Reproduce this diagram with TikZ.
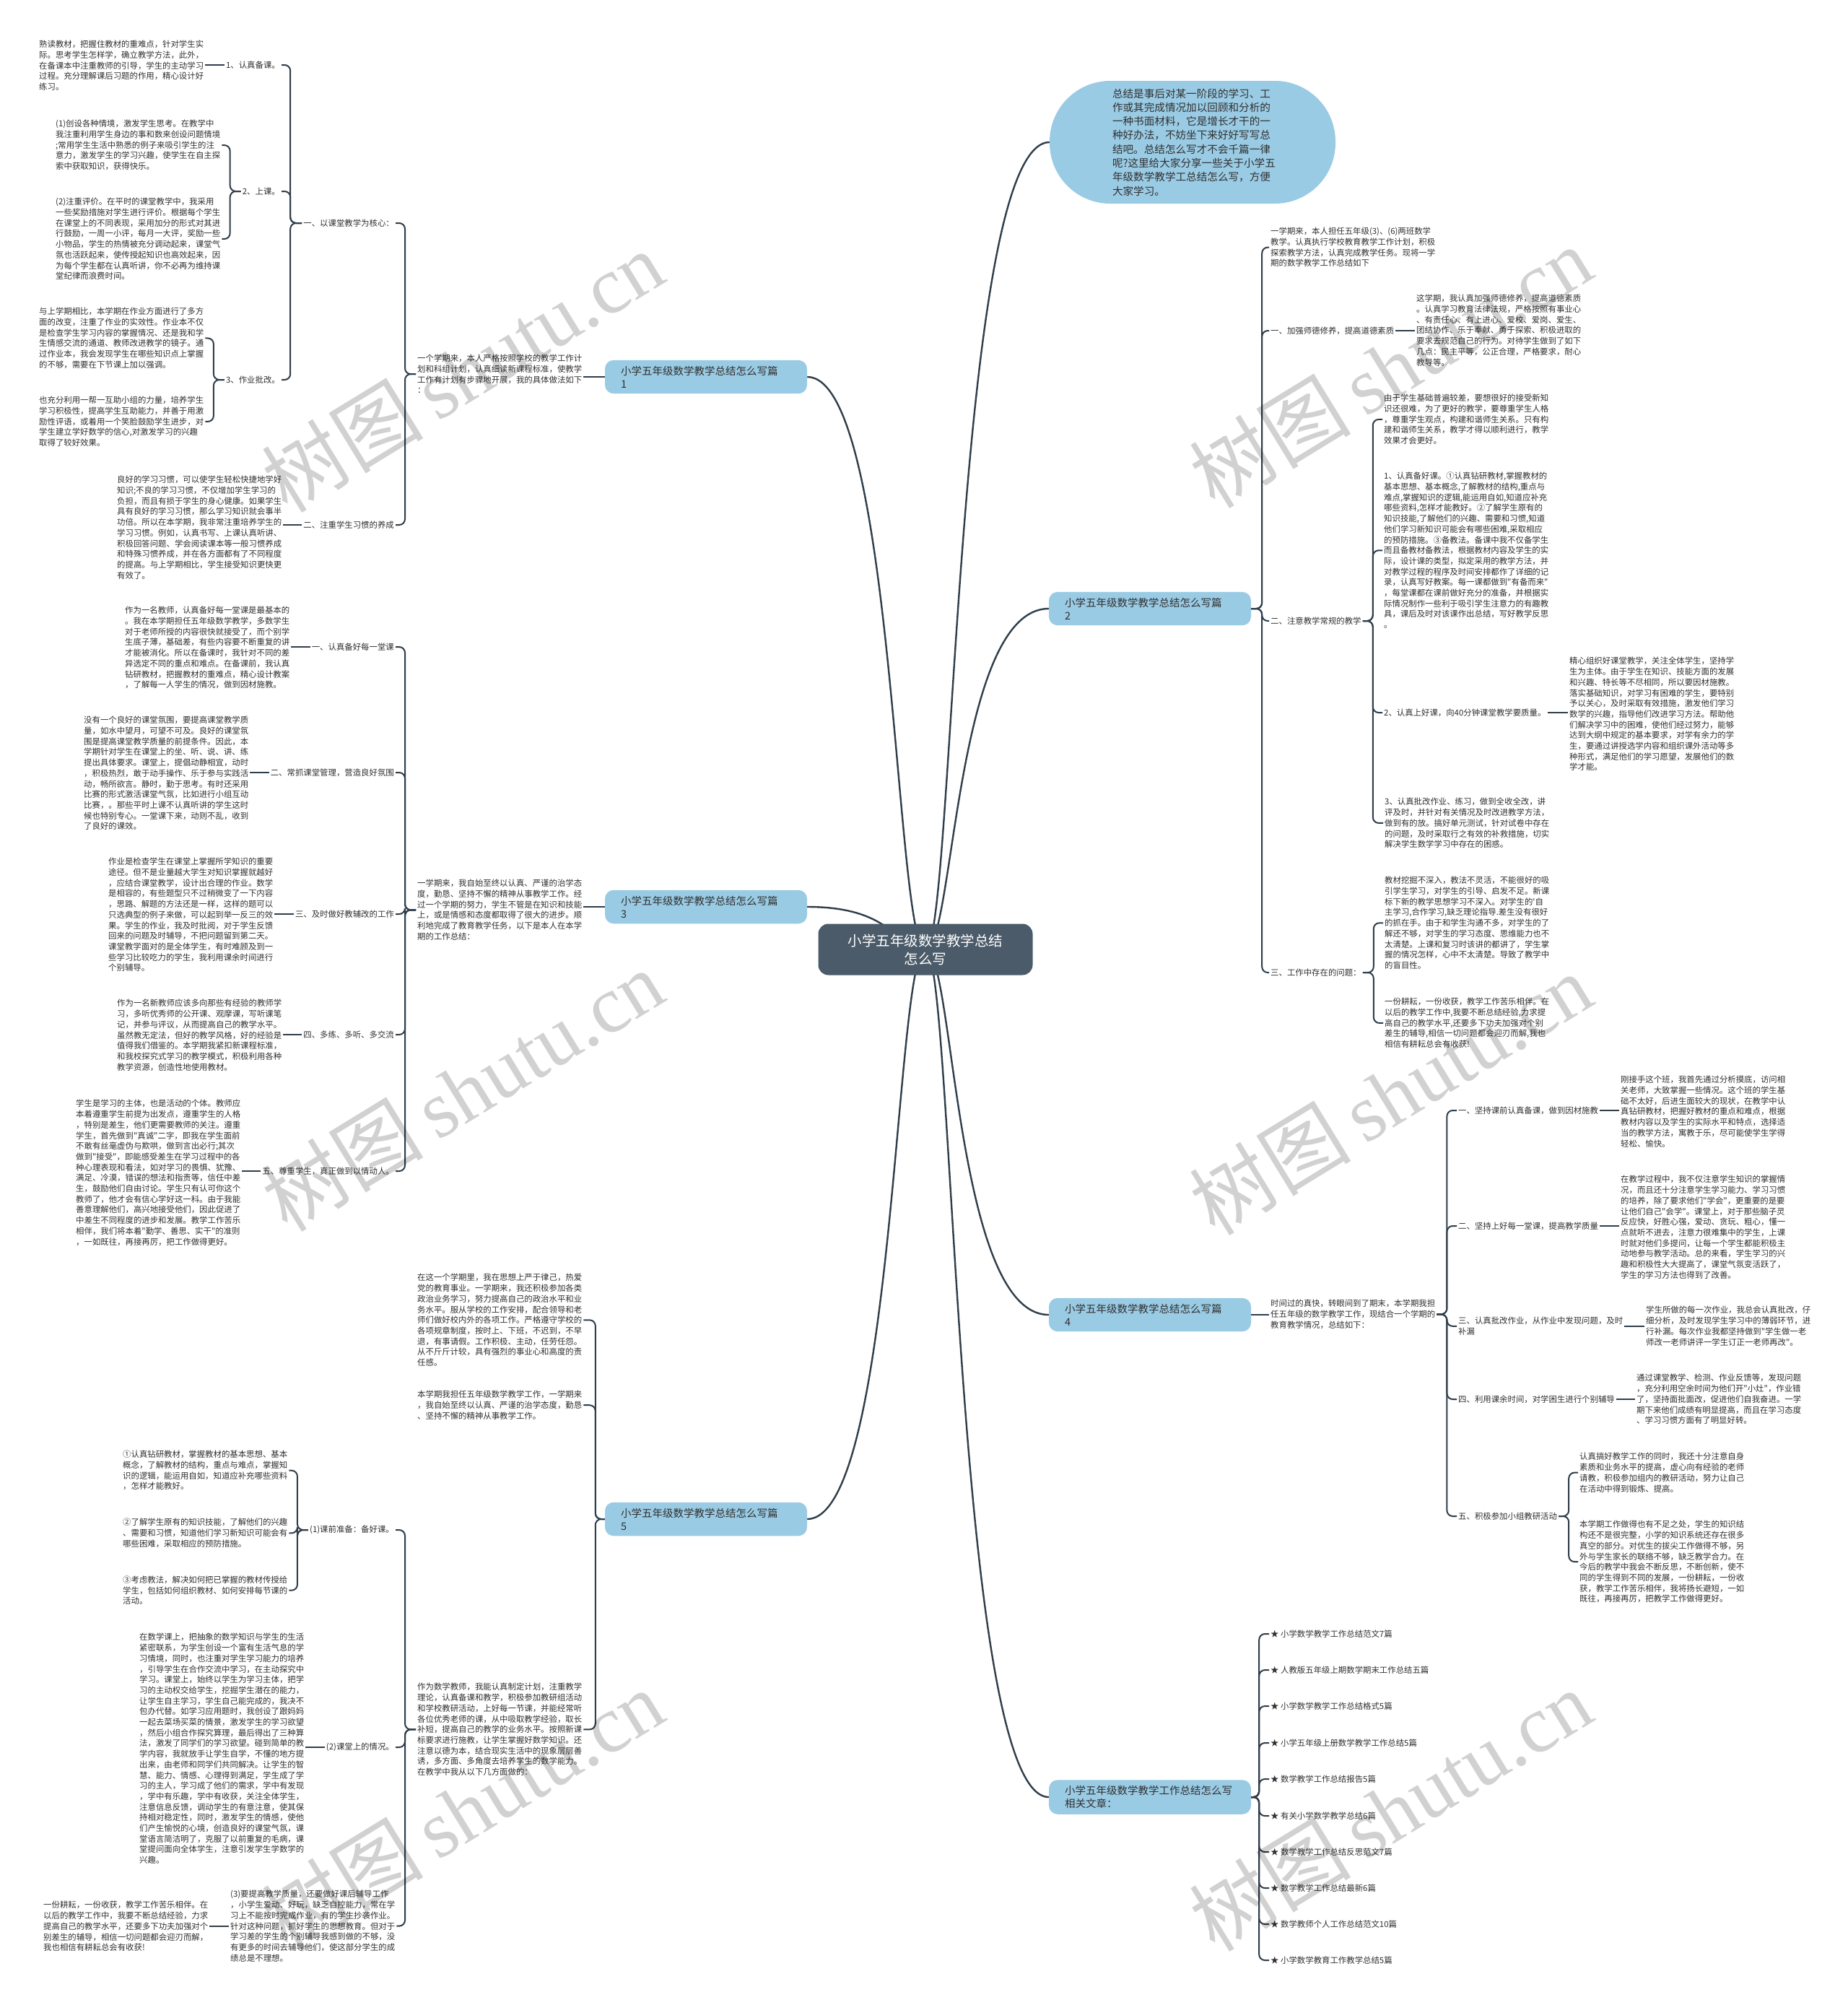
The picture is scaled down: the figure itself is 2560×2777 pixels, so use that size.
\documentclass[tikz,border=0pt]{standalone}
\usepackage{fontspec}
\newfontfamily\cjk{Noto Sans CJK SC}
\newfontfamily\wmfont{Liberation Serif}
\usetikzlibrary{calc,backgrounds}
\definecolor{lineC}{HTML}{2F3E4B}
\definecolor{txtC}{HTML}{303030}
\definecolor{brC}{HTML}{9ACBE4}
\definecolor{ctrC}{HTML}{4B5B69}
\tikzset{
 conn/.style={draw=lineC, line width=2pt, rounded corners=8pt},
 curv/.style={draw=lineC, line width=2.4pt},
 blk/.style={font=\cjk\fontsize{11.4pt}{14.7pt}\selectfont, text=txtC, align=left, inner sep=2pt, anchor=north west, xshift=-2pt, yshift=7pt},
 lblE/.style={font=\cjk\fontsize{11.4pt}{14.7pt}\selectfont, text=txtC, inner sep=2pt, anchor=east, xshift=2pt},
 lblW/.style={font=\cjk\fontsize{11.4pt}{14.7pt}\selectfont, text=txtC, inner sep=2pt, anchor=west, xshift=-2pt},
 branch/.style={fill=brC, rounded corners=12pt, font=\cjk\fontsize{14.5pt}{18pt}\selectfont, text=txtC, align=left, text width=236pt, inner xsep=22pt, inner ysep=8pt},
 wm/.style={rotate=31.5, text=black, opacity=0.18, inner sep=0pt}
}
\begin{document}
\begin{tikzpicture}[x=1pt,y=-1pt]
\useasboundingbox (0,0) rectangle (2560,2777);

% ---------- center and top ellipse ----------
\node[fill=ctrC, rounded corners=14pt, minimum width=297pt, minimum height=71pt, text=white, align=center, font=\cjk\fontsize{19.5pt}{25pt}\selectfont] (C) at (1282,1315) {小学五年级数学教学总结\\怎么写};
\node[fill=brC, rounded corners=84pt, minimum width=396pt, minimum height=170pt, text width=222pt, align=left, text=txtC, font=\cjk\fontsize{14.6pt}{19.3pt}\selectfont] (E) at (1652,197) {总结是事后对某一阶段的学习、工\\作或其完成情况加以回顾和分析的\\一种书面材料，它是增长才干的一\\种好办法，不妨坐下来好好写写总\\结吧。总结怎么写才不会千篇一律\\呢?这里给大家分享一些关于小学五\\年级数学教学工总结怎么写，方便\\大家学习。};

% ---------- branch nodes ----------
\node[branch] (N1) at (978,522) {小学五年级数学教学总结怎么写篇\\1};
\node[branch] (N3) at (978,1256) {小学五年级数学教学总结怎么写篇\\3};
\node[branch] (N5) at (978,2104) {小学五年级数学教学总结怎么写篇\\5};
\node[branch] (N2) at (1593,843) {小学五年级数学教学总结怎么写篇\\2};
\node[branch] (N4) at (1593,1821) {小学五年级数学教学总结怎么写篇\\4};
\node[branch] (N6) at (1593,2489) {小学五年级数学教学工作总结怎么写\\相关文章：};

% ---------- branch 1 ----------
\node[blk] (A1) at (54,61) {熟读教材，把握住教材的重难点，针对学生实\\际。思考学生怎样学，确立教学方法，此外，\\在备课本中注重教师的引导，学生的主动学习\\过程。充分理解课后习题的作用，精心设计好\\练习。};
\node[lblE] (L1) at (388,90) {1、认真备课。};
\node[blk] (A2a) at (77,171) {(1)创设各种情境，激发学生思考。在教学中\\我注重利用学生身边的事和数来创设问题情境\\;常用学生生活中熟悉的例子来吸引学生的注\\意力，激发学生的学习兴趣，使学生在自主探\\索中获取知识，获得快乐。};
\node[blk] (A2b) at (77,279) {(2)注重评价。在平时的课堂教学中，我采用\\一些奖励措施对学生进行评价。根据每个学生\\在课堂上的不同表现，采用加分的形式对其进\\行鼓励，一周一小评，每月一大评，奖励一些\\小物品，学生的热情被充分调动起来，课堂气\\氛也活跃起来，使传授起知识也高效起来，因\\为每个学生都在认真听讲，你不必再为维持课\\堂纪律而浪费时间。};
\node[lblE] (L2) at (388,265) {2、上课。};
\node[blk] (A3a) at (54,431) {与上学期相比，本学期在作业方面进行了多方\\面的改变，注重了作业的实效性。作业本不仅\\是检查学生学习内容的掌握情况、还是我和学\\生情感交流的通道、教师改进教学的镜子。通\\过作业本，我会发现学生在哪些知识点上掌握\\的不够，需要在下节课上加以强调。};
\node[blk] (A3b) at (54,554) {也充分利用一帮一互助小组的力量，培养学生\\学习积极性，提高学生互助能力，并善于用激\\励性评语，或着用一个笑脸鼓励学生进步，对\\学生建立学好数学的信心,对激发学习的兴趣\\取得了较好效果。};
\node[lblE] (L3) at (388,526) {3、作业批改。};
\node[lblE] (S1) at (546,309) {一、以课堂教学为核心：};
\node[blk] (A4) at (162,664) {良好的学习习惯，可以使学生轻松快捷地学好\\知识;不良的学习习惯，不仅增加学生学习的\\负担，而且有损于学生的身心健康。如果学生\\具有良好的学习习惯，那么学习知识就会事半\\功倍。所以在本学期，我非常注重培养学生的\\学习习惯。例如，认真书写、上课认真听讲、\\积极回答问题、学会阅读课本等一般习惯养成\\和特殊习惯养成，并在各方面都有了不同程度\\的提高。与上学期相比，学生接受知识更快更\\有效了。};
\node[lblE] (S2) at (546,727) {二、注重学生习惯的养成};
\node[blk] (P1) at (578,496) {一个学期来，本人严格按照学校的教学工作计\\划和科组计划，认真细读新课程标准，使教学\\工作有计划有步骤地开展，我的具体做法如下\\：};

% ---------- branch 3 ----------
\node[blk] (A5) at (173,845) {作为一名教师，认真备好每一堂课是最基本的\\。我在本学期担任五年级数学教学，多数学生\\对于老师所授的内容很快就接受了，而个别学\\生底子薄，基础差，有些内容要不断重复的讲\\才能被消化。所以在备课时，我针对不同的差\\异选定不同的重点和难点。在备课前，我认真\\钻研教材，把握教材的重难点，精心设计教案\\，了解每一人学生的情况，做到因材施教。};
\node[lblE] (S31) at (546,896) {一、认真备好每一堂课};
\node[blk] (A6) at (116,997) {没有一个良好的课堂氛围，要提高课堂教学质\\量，如水中望月，可望不可及。良好的课堂氛\\围是提高课堂教学质量的前提条件。因此，本\\学期针对学生在课堂上的坐、听、说、讲、练\\提出具体要求。课堂上，提倡动静相宜，动时\\，积极热烈，敢于动手操作、乐于参与实践活\\动，畅所欲言。静时，勤于思考。有时还采用\\比赛的形式激活课堂气氛，比如进行小组互动\\比赛，。那些平时上课不认真听讲的学生这时\\候也特别专心。一堂课下来，动则不乱，收到\\了良好的课效。};
\node[lblE] (S32) at (546,1070) {二、常抓课堂管理，营造良好氛围};
\node[blk] (A7) at (150,1193) {作业是检查学生在课堂上掌握所学知识的重要\\途径。但不是业量越大学生对知识掌握就越好\\，应结合课堂教学，设计出合理的作业。数学\\是相容的，有些题型只不过稍微变了一下内容\\，思路、解题的方法还是一样，这样的题可以\\只选典型的例子来做，可以起到举一反三的效\\果。学生的作业，我及时批阅，对于学生反馈\\回来的问题及时辅导，不把问题留到第二天。\\课堂教学面对的是全体学生，有时难顾及到一\\些学习比较吃力的学生，我利用课余时间进行\\个别辅导。};
\node[lblE] (S33) at (546,1266) {三、及时做好教辅改的工作};
\node[blk] (A8) at (162,1389) {作为一名新教师应该多向那些有经验的教师学\\习，多听优秀师的公开课、观摩课，写听课笔\\记，并参与评议，从而提高自己的教学水平。\\虽然教无定法，但好的教学风格，好的经验是\\值得我们借鉴的。本学期我紧扣新课程标准，\\和我校探究式学习的教学模式，积极利用各种\\教学资源，创造性地使用教材。};
\node[lblE] (S34) at (546,1433) {四、多练、多听、多交流};
\node[blk] (A9) at (105,1528) {学生是学习的主体，也是活动的个体。教师应\\本着遵重学生前提为出发点，遵重学生的人格\\，特别是差生，他们更需要教师的关注。遵重\\学生，首先做到"真诚"二字，即我在学生面前\\不敢有丝毫虚伪与欺哄，做到言出必行;其次\\做到"接受"，即能感受差生在学习过程中的各\\种心理表现和看法，如对学习的畏惧、犹豫、\\满足、冷漠，错误的想法和指责等，信任中差\\生，鼓励他们自由讨论。学生只有认可你这个\\教师了，他才会有信心学好这一科。由于我能\\善意理解他们，高兴地接受他们，因此促进了\\中差生不同程度的进步和发展。教学工作苦乐\\相伴，我们将本着"勤学、善思、实干"的准则\\，一如既往，再接再厉，把工作做得更好。};
\node[lblE] (S35) at (546,1622) {五、尊重学生，真正做到以情动人。};
\node[blk] (P3) at (578,1223) {一学期来，我自始至终以认真、严谨的治学态\\度，勤恳、坚持不懈的精神从事教学工作。经\\过一个学期的努力，学生不管是在知识和技能\\上，或是情感和态度都取得了很大的进步。顺\\利地完成了教育教学任务，以下是本人在本学\\期的工作总结：};

% ---------- branch 5 ----------
\node[blk] (P5a) at (578,1769) {在这一个学期里，我在思想上严于律己，热爱\\党的教育事业。一学期来，我还积极参加各类\\政治业务学习，努力提高自己的政治水平和业\\务水平。服从学校的工作安排，配合领导和老\\师们做好校内外的各项工作。严格遵守学校的\\各项规章制度，按时上、下班，不迟到，不早\\退，有事请假。工作积极、主动，任劳任怨。\\从不斤斤计较，具有强烈的事业心和高度的责\\任感。};
\node[blk] (P5b) at (578,1931) {本学期我担任五年级数学教学工作，一学期来\\，我自始至终以认真、严谨的治学态度，勤恳\\、坚持不懈的精神从事教学工作。};
\node[blk] (P5c) at (578,2336) {作为数学教师，我能认真制定计划，注重教学\\理论，认真备课和教学，积极参加教研组活动\\和学校教研活动，上好每一节课，并能经常听\\各位优秀老师的课，从中吸取教学经验，取长\\补短，提高自己的教学的业务水平。按照新课\\标要求进行施教，让学生掌握好数学知识。还\\注意以德为本，结合现实生活中的现象层层善\\诱，多方面、多角度去培养学生的数学能力。\\在教学中我从以下几方面做的：};
\node[blk] (C1a) at (170,2014) {①认真钻研教材，掌握教材的基本思想、基本\\概念，了解教材的结构，重点与难点，掌握知\\识的逻辑，能运用自如，知道应补充哪些资料\\，怎样才能教好。};
\node[blk] (C1b) at (170,2108) {②了解学生原有的知识技能，了解他们的兴趣\\、需要和习惯，知道他们学习新知识可能会有\\哪些困难，采取相应的预防措施。};
\node[blk] (C1c) at (170,2187.5) {③考虑教法，解决如何把已掌握的教材传授给\\学生，包括如何组织教材、如何安排每节课的\\活动。};
\node[lblE] (S51) at (546,2119) {(1)课前准备：备好课。};
\node[blk] (C2) at (193,2267) {在数学课上，把抽象的数学知识与学生的生活\\紧密联系，为学生创设一个富有生活气息的学\\习情境，同时，也注重对学生学习能力的培养\\，引导学生在合作交流中学习，在主动探究中\\学习。课堂上，始终以学生为学习主体，把学\\习的主动权交给学生，挖掘学生潜在的能力，\\让学生自主学习，学生自己能完成的，我决不\\包办代替。如学习应用题时，我创设了跟妈妈\\一起去菜场买菜的情景，激发学生的学习欲望\\，然后小组合作探究算理，最后得出了三种算\\法，激发了同学们的学习欲望。碰到简单的教\\学内容，我就放手让学生自学，不懂的地方提\\出来，由老师和同学们共同解决。让学生的智\\慧、能力、情感、心理得到满足，学生成了学\\习的主人，学习成了他们的需求，学中有发现\\，学中有乐趣，学中有收获，关注全体学生，\\注意信息反馈，调动学生的有意注意，使其保\\持相对稳定性，同时，激发学生的情感，使他\\们产生愉悦的心境，创造良好的课堂气氛，课\\堂语言简洁明了，克服了以前重复的毛病，课\\堂提问面向全体学生，注意引发学生学数学的\\兴趣。};
\node[lblE] (S52) at (546,2420) {(2)课堂上的情况。};
\node[blk] (S53) at (319,2623) {(3)要提高教学质量，还要做好课后辅导工作\\，小学生爱动、好玩，缺乏自控能力，常在学\\习上不能按时完成作业，有的学生抄袭作业。\\针对这种问题，抓好学生的思想教育。但对于\\学习差的学生的个别辅导我感到做的不够，没\\有更多的时间去辅导他们，使这部分学生的成\\绩总是不理想。};
\node[blk] (C3) at (60,2638) {一份耕耘，一份收获，教学工作苦乐相伴。在\\以后的教学工作中，我要不断总结经验，力求\\提高自己的教学水平，还要多下功夫加强对个\\别差生的辅导，相信一切问题都会迎刃而解，\\我也相信有耕耘总会有收获!};

% ---------- branch 2 ----------
\node[blk] (P2) at (1760,320) {一学期来，本人担任五年级(3)、(6)两班数学\\教学。认真执行学校教育教学工作计划，积极\\探索教学方法，认真完成教学任务。现将一学\\期的数学教学工作总结如下};
\node[lblW] (R21) at (1760,458) {一、加强师德修养，提高道德素质};
\node[blk] (D1) at (1962,413) {这学期，我认真加强师德修养，提高道德素质\\。认真学习教育法律法规，严格按照有事业心\\、有责任心、有上进心、爱校、爱岗、爱生、\\团结协作、乐于奉献、勇于探索、积极进取的\\要求去规范自己的行为。对待学生做到了如下\\几点：民主平等，公正合理，严格要求，耐心\\教导等。};
\node[lblW] (R22) at (1760,860) {二、注意教学常规的教学};
\node[blk] (D2a) at (1917,551) {由于学生基础普遍较差，要想很好的接受新知\\识还很难，为了更好的教学，要尊重学生人格\\，尊重学生观点，构建和谐师生关系。只有构\\建和谐师生关系，教学才得以顺利进行，教学\\效果才会更好。};
\node[blk] (D2b) at (1917,659) {1、认真备好课。①认真钻研教材,掌握教材的\\基本思想、基本概念,了解教材的结构,重点与\\难点,掌握知识的逻辑,能运用自如,知道应补充\\哪些资料,怎样才能教好。②了解学生原有的\\知识技能,了解他们的兴趣、需要和习惯,知道\\他们学习新知识可能会有哪些困难,采取相应\\的预防措施。③备教法。备课中我不仅备学生\\而且备教材备教法，根据教材内容及学生的实\\际，设计课的类型，拟定采用的教学方法，并\\对教学过程的程序及时间安排都作了详细的记\\录，认真写好教案。每一课都做到"有备而来"\\，每堂课都在课前做好充分的准备，并根据实\\际情况制作一些利于吸引学生注意力的有趣教\\具，课后及时对该课作出总结，写好教学反思\\。};
\node[lblW] (D2c) at (1917,987) {2、认真上好课，向40分钟课堂教学要质量。};
\node[blk] (D2d) at (2174,915) {精心组织好课堂教学，关注全体学生，坚持学\\生为主体。由于学生在知识、技能方面的发展\\和兴趣、特长等不尽相同，所以要因材施教。\\落实基础知识，对学习有困难的学生，要特别\\予以关心，及时采取有效措施，激发他们学习\\数学的兴趣，指导他们改进学习方法。帮助他\\们解决学习中的困难，使他们经过努力，能够\\达到大纲中规定的基本要求，对学有余力的学\\生，要通过讲授选学内容和组织课外活动等多\\种形式，满足他们的学习愿望，发展他们的数\\学才能。};
\node[blk] (D2e) at (1918,1110) {3、认真批改作业、练习，做到全收全改，讲\\评及时，并针对有关情况及时改进教学方法，\\做到有的放。搞好单元测试，针对试卷中存在\\的问题，及时采取行之有效的补救措施，切实\\解决学生数学学习中存在的困惑。};
\node[lblW] (R23) at (1760,1347) {三、工作中存在的问题：};
\node[blk] (D3a) at (1918,1219) {教材挖掘不深入，教法不灵活，不能很好的吸\\引学生学习，对学生的引导、启发不足。新课\\标下新的教学思想学习不深入。对学生的'自\\主学习,合作学习,缺乏理论指导.差生没有很好\\的抓在手。由于和学生沟通不多，对学生的了\\解还不够，对学生的学习态度、思维能力也不\\太清楚。上课和复习时该讲的都讲了，学生掌\\握的情况怎样，心中不太清楚。导致了教学中\\的盲目性。};
\node[blk] (D3b) at (1918,1387) {一份耕耘，一份收获，教学工作苦乐相伴。在\\以后的教学工作中,我要不断总结经验,力求提\\高自己的教学水平,还要多下功夫加强对个别\\差生的辅导,相信一切问题都会迎刃而解,我也\\相信有耕耘总会有收获!};

% ---------- branch 4 ----------
\node[blk] (P4) at (1760,1805) {时间过的真快，转眼间到了期末，本学期我担\\任五年级的数学教学工作，现结合一个学期的\\教育教学情况，总结如下：};
\node[lblW] (R41) at (2020,1538) {一、坚持课前认真备课，做到因材施教};
\node[blk] (D41) at (2245,1495) {刚接手这个班，我首先通过分析摸底，访问相\\关老师，大致掌握一些情况。这个班的学生基\\础不太好，后进生面较大的现状，在教学中认\\真钻研教材，把握好教材的重点和难点，根据\\教材内容以及学生的实际水平和特点，选择适\\当的教学方法，寓教于乐，尽可能使学生学得\\轻松、愉快。};
\node[lblW] (R42) at (2020,1698) {二、坚持上好每一堂课，提高教学质量};
\node[blk] (D42) at (2245,1633) {在教学过程中，我不仅注意学生知识的掌握情\\况，而且还十分注意学生学习能力、学习习惯\\的培养，除了要求他们"学会"，更重要的是要\\让他们自己"会学"。课堂上，对于那些脑子灵\\反应快，好胜心强，爱动、贪玩、粗心，懂一\\点就听不进去，注意力很难集中的学生，上课\\时就对他们多提问，让每一个学生都能积极主\\动地参与教学活动。总的来看，学生学习的兴\\趣和积极性大大提高了，课堂气氛变活跃了，\\学生的学习方法也得到了改善。};
\node[blk] (R43) at (2020,1829) {三、认真批改作业，从作业中发现问题，及时\\补漏};
\node[blk] (D43) at (2280,1814) {学生所做的每一次作业，我总会认真批改，仔\\细分析，及时发现学生学习中的薄弱环节，进\\行补漏。每次作业我都坚持做到"学生做一老\\师改一老师讲评一学生订正一老师再改"。};
\node[lblW] (R44) at (2020,1938) {四、利用课余时间，对学困生进行个别辅导};
\node[blk] (D44) at (2267,1908) {通过课堂教学、检测、作业反馈等，发现问题\\，充分利用空余时间为他们开"小灶"，作业错\\了，坚持面批面改，促进他们自我奋进。一学\\期下来他们成绩有明显提高，而且在学习态度\\、学习习惯方面有了明显好转。};
\node[lblW] (R45) at (2020,2100) {五、积极参加小组教研活动};
\node[blk] (D45a) at (2188,2017) {认真搞好教学工作的同时，我还十分注意自身\\素质和业务水平的提高，虚心向有经验的老师\\请教，积极参加组内的教研活动，努力让自己\\在活动中得到锻炼、提高。};
\node[blk] (D45b) at (2188,2111) {本学期工作做得也有不足之处，学生的知识结\\构还不是很完整，小学的知识系统还存在很多\\真空的部分。对优生的拔尖工作做得不够，另\\外与学生家长的联络不够，缺乏教学合力。在\\今后的教学中我会不断反思，不断创新，使不\\同的学生得到不同的发展，一份耕耘，一份收\\获，教学工作苦乐相伴，我将扬长避短，一如\\既往，再接再厉，把教学工作做得更好。};

% ---------- related articles ----------
\node[lblW] (T1) at (1760,2263) {★ 小学数学教学工作总结范文7篇};
\node[lblW] (T2) at (1760,2313) {★ 人教版五年级上期数学期末工作总结五篇};
\node[lblW] (T3) at (1760,2363) {★ 小学数学教学工作总结格式5篇};
\node[lblW] (T4) at (1760,2414) {★ 小学五年级上册数学教学工作总结5篇};
\node[lblW] (T5) at (1760,2464) {★ 数学教学工作总结报告5篇};
\node[lblW] (T6) at (1760,2515) {★ 有关小学数学教学总结6篇};
\node[lblW] (T7) at (1760,2565) {★ 数学教学工作总结反思范文7篇};
\node[lblW] (T8) at (1760,2615) {★ 数学教学工作总结最新6篇};
\node[lblW] (T9) at (1760,2665) {★ 数学教师个人工作总结范文10篇};
\node[lblW] (T10) at (1760,2715) {★ 小学数学教育工作教学总结5篇};

% ---------- connectors: branch 1 ----------
\draw[conn] (L1.west) -- (L1.west -| A1.east);
\foreach \c in {A2a,A2b} \draw[conn] (L2.west) -- ++(-15,0) |- (\c.east);
\foreach \c in {A3a,A3b} \draw[conn] (L3.west) -- ++(-15,0) |- (\c.east);
\foreach \c in {L1,L2,L3} \draw[conn] (S1.west) -- ++(-16,0) |- (\c.east);
\draw[conn] (S2.west) -- (S2.west -| A4.east);
\foreach \c in {S1,S2} \draw[conn] (P1.west) -- ++(-15,0) |- (\c.east);
\draw[conn] (N1.west) -- (N1.west -| P1.east);

% ---------- connectors: branch 3 ----------
\draw[conn] (S31.west) -- (S31.west -| A5.east);
\draw[conn] (S32.west) -- (S32.west -| A6.east);
\draw[conn] (S33.west) -- (S33.west -| A7.east);
\draw[conn] (S34.west) -- (S34.west -| A8.east);
\draw[conn] (S35.west) -- (S35.west -| A9.east);
\foreach \c in {S31,S32,S33,S34,S35} \draw[conn] (P3.west) -- ++(-15,0) |- (\c.east);
\draw[conn] (N3.west) -- (N3.west -| P3.east);

% ---------- connectors: branch 5 ----------
\foreach \c in {P5a,P5b,P5c} \draw[conn] (N5.west) -- ++(-13,0) |- (\c.east);
\foreach \c in {S51,S52,S53} \draw[conn] (P5c.west) -- ++(-15,0) |- (\c.east);
\foreach \c in {C1a,C1b,C1c} \draw[conn] (S51.west) -- ++(-15,0) |- (\c.east);
\draw[conn] (S52.west) -- (S52.west -| C2.east);
\draw[conn] (S53.west) -- (S53.west -| C3.east);

% ---------- connectors: branch 2 ----------
\foreach \c in {P2,R21,R22,R23} \draw[conn] (N2.east) -- ++(15,0) |- (\c.west);
\draw[conn] (R21.east) -- (R21.east -| D1.west);
\foreach \c in {D2a,D2b,D2c,D2e} \draw[conn] (R22.east) -- ++(14,0) |- (\c.west);
\draw[conn] (D2c.east) -- (D2c.east -| D2d.west);
\foreach \c in {D3a,D3b} \draw[conn] (R23.east) -- ++(15,0) |- (\c.west);

% ---------- connectors: branch 4 ----------
\draw[conn] (N4.east) -- (N4.east -| P4.west);
\foreach \c in {R41,R42,R43,R44,R45} \draw[conn] (P4.east) -- ++(14,0) |- (\c.west);
\draw[conn] (R41.east) -- (R41.east -| D41.west);
\draw[conn] (R42.east) -- (R42.east -| D42.west);
\draw[conn] (R43.east) -- (R43.east -| D43.west);
\draw[conn] (R44.east) -- (R44.east -| D44.west);
\foreach \c in {D45a,D45b} \draw[conn] (R45.east) -- ++(14,0) |- (\c.west);

% ---------- connectors: related ----------
\foreach \c in {T1,T2,T3,T4,T5,T6,T7,T8,T9,T10} \draw[conn] (N6.east) -- ++(11,0) |- (\c.west);

% ---------- main curves ----------
\begin{scope}[on background layer]
\fill[white] (0,0) rectangle (2560,2777);
\foreach \n in {N2,N4,N6}
  \draw[curv] (C.center) .. controls ($(C.center)+(40,0)$) and ($(\n.west -| C.center)+(40,0)$) .. (\n.west);
\draw[curv] (C.center) .. controls ($(C.center)+(40,0)$) and ($(E.west -| C.center)+(40,0)$) .. (E.west);
\foreach \n in {N1,N3,N5}
  \draw[curv] (C.center) .. controls ($(C.center)+(-42,0)$) and ($(\n.east -| C.center)+(-42,0)$) .. (\n.east);
\end{scope}

% ---------- watermarks ----------
\foreach \i/\x/\y in {1/641/514, 2/1926/508, 3/641/1510, 4/1926/1515, 5/641/2507, 6/1926/2507}
  \node[wm] (wm\i) at (\x,\y) {{\cjk\fontsize{112pt}{112pt}\selectfont 树图}\hspace{20pt}{\wmfont\fontsize{112pt}{112pt}\selectfont shutu.cn}};
\end{tikzpicture}
\end{document}
